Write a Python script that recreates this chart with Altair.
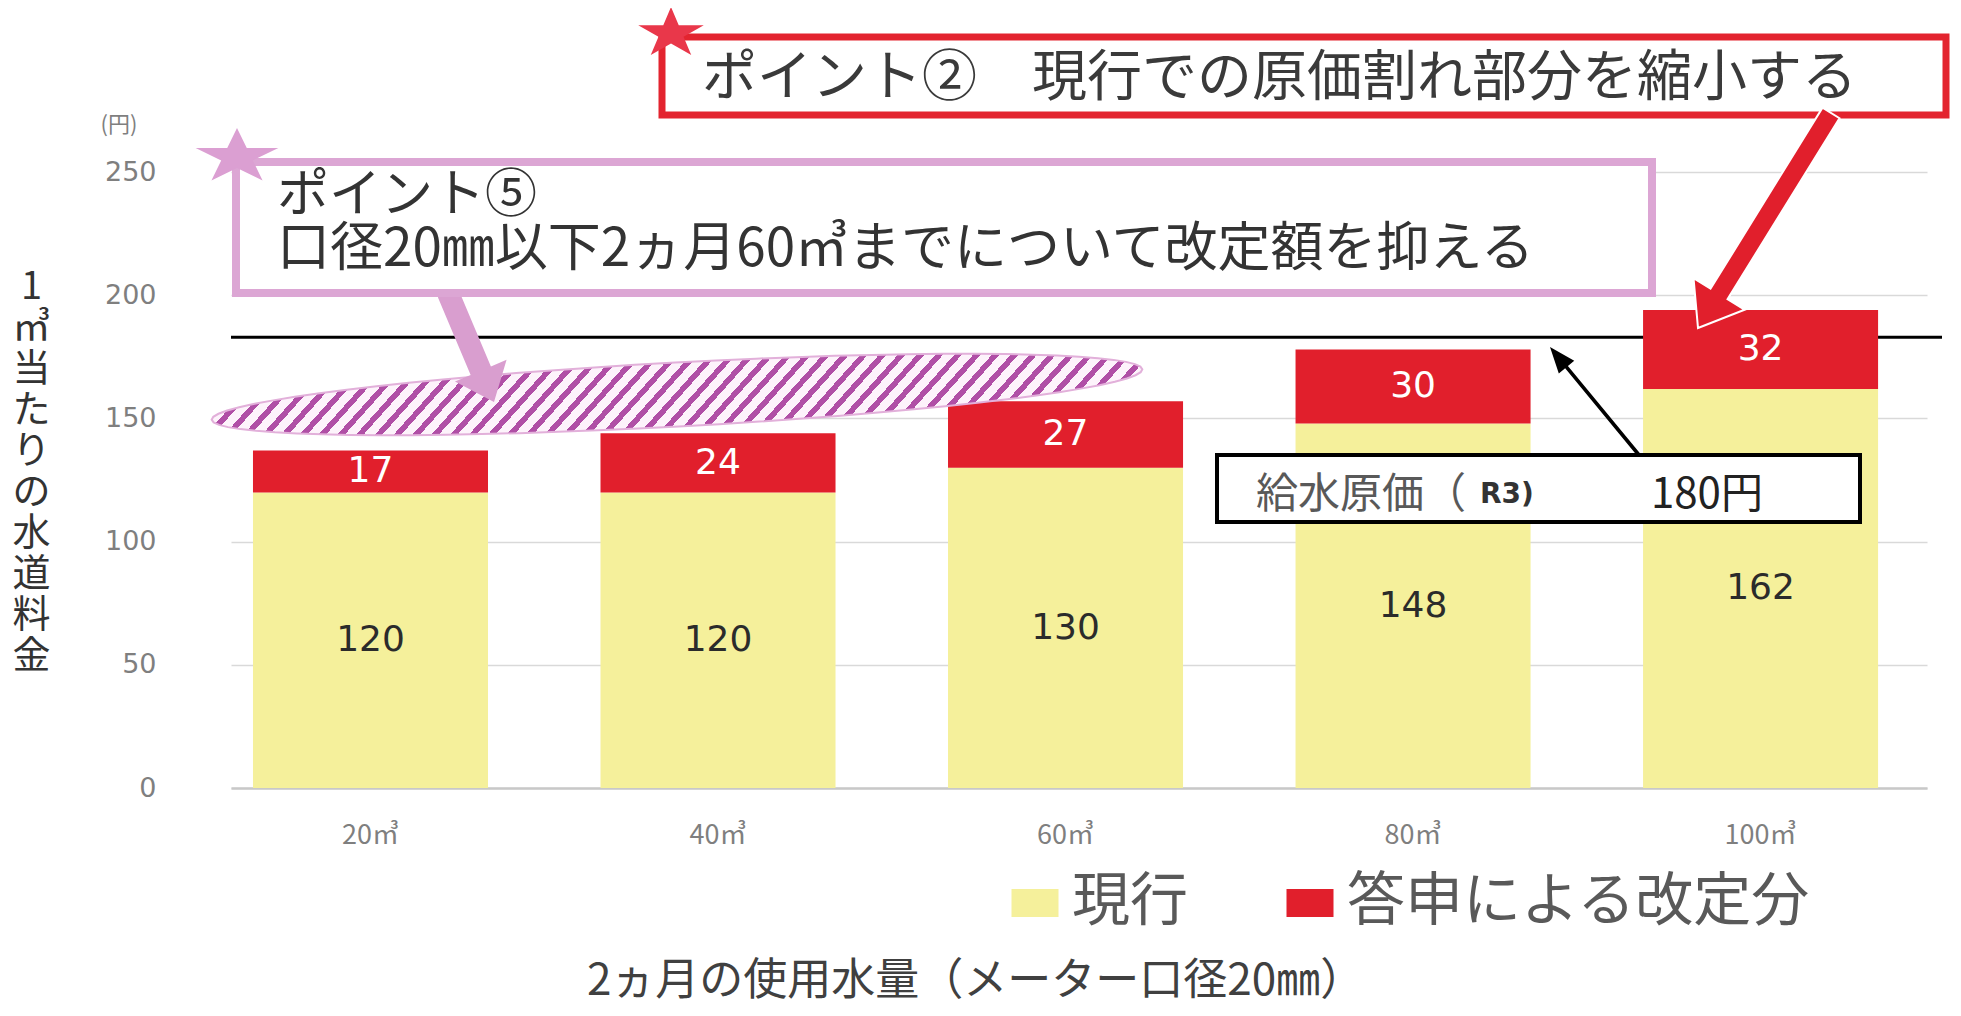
import math
import altair as alt
import pandas as pd

# ---------------- data ----------------
categories = ["20㎥", "40㎥", "60㎥", "80㎥", "100㎥"]
current = [120, 120, 130, 148, 162]
revision = [17, 24, 27, 30, 32]
series = ["現行", "答申による改定分"]
y_ticks = [0, 50, 100, 150, 200, 250]
cost_line = 183
y_title = ["1", "㎥", "当", "た", "り", "の", "水", "道", "料", "金"]
x_title = "2ヵ月の使用水量（メーター口径20㎜）"
note2 = "ポイント②　現行での原価割れ部分を縮小する"
note5_l1 = "ポイント⑤"
note5_l2 = "口径20㎜以下2ヵ月60㎥までについて改定額を抑える"
cost_txt = ["給水原価（", "R3)", "180円"]

YELLOW = "#F5F09B"
RED = "#E11F2C"
PINK = "#DCA6D4"
JP = "Noto Sans CJK JP"
NUM = "DejaVu Sans"

rows = []
for i, c in enumerate(categories):
    rows.append({"vol": c, "series": series[0], "value": current[i], "order": 0,
                 "mid": current[i] / 2})
    rows.append({"vol": c, "series": series[1], "value": revision[i], "order": 1,
                 "mid": current[i] + revision[i] / 2})
df = pd.DataFrame(rows)

W, H = 1696, 776
xscale = alt.Scale(domain=categories, paddingInner=0.3237, paddingOuter=0.102, align=0.31)
yscale = alt.Scale(domain=[0, 315], nice=False, zero=True)

x_axis = alt.Axis(
    labelAngle=0, domain=True, domainColor="#C8C8C8", domainWidth=2.5,
    ticks=False, tickSize=0, grid=False, labelPadding=47, labelBaseline="middle",
    labelFontSize=27, labelFont=JP, labelColor="#7F7F7F",
    title=x_title, titleX=744, titleY=193, titleAlign="center",
    titleBaseline="middle", titleFontSize=44, titleFont=JP,
    titleColor="#404040", titleFontWeight="normal")
y_axis = alt.Axis(
    values=y_ticks, grid=True, gridColor="#D9D9D9", gridWidth=1.5,
    domain=False, ticks=False, tickSize=0, labelPadding=75,
    labelFontSize=27, labelFont=NUM, labelColor="#7F7F7F",
    title=y_title, titleAngle=0, titleX=-200, titleY=275,
    titleAlign="center", titleBaseline="middle", titleFontSize=38,
    titleLineHeight=41, titleFont=JP, titleColor="#333333",
    titleFontWeight="normal")

one = alt.Data(values=[{"a": 1}])

# ---------------- helpers for shapes ----------------
def star_path(stretch):
    pts = []
    for k in range(10):
        r = 1.0 if k % 2 == 0 else 0.382
        a = math.radians(k * 36)
        pts.append((stretch * r * math.sin(a), -r * math.cos(a)))
    return "M" + "L".join(f"{x:.4f},{y:.4f}" for x, y in pts) + "Z"

def arrow_path(length, shaft_hw, head_hw, head_len):
    s = length / 2
    a = shaft_hw / s
    b = head_hw / s
    h = -1 + head_len / s
    return (f"M0,-1L{b:.4f},{h:.4f}L{a:.4f},{h:.4f}L{a:.4f},1L{-a:.4f},1"
            f"L{-a:.4f},{h:.4f}L{-b:.4f},{h:.4f}Z")

def arrow_layer(tail, tip, shaft_hw, head_hw, head_len, color, stroke=None, sw=0):
    dx, dy = tip[0] - tail[0], tip[1] - tail[1]
    L = math.hypot(dx, dy)
    ang = math.degrees(math.atan2(dx, -dy)) % 360
    cx, cy = (tail[0] + tip[0]) / 2, (tail[1] + tip[1]) / 2
    kw = dict(shape=arrow_path(L, shaft_hw, head_hw, head_len), size=L * L,
              angle=ang, filled=True, fill=color, opacity=1, strokeWidth=sw)
    if stroke:
        kw["stroke"] = stroke
    return alt.Chart(one).mark_point(**kw).encode(x=alt.value(cx), y=alt.value(cy))

def star_layer(cx, cy, ry, stretch, color):
    return alt.Chart(one).mark_point(
        shape=star_path(stretch), size=(2 * ry) ** 2, filled=True, fill=color,
        opacity=1, strokeWidth=0
    ).encode(x=alt.value(cx), y=alt.value(cy))

def box_layer(x1, x2, y1, y2, color, sw):
    return alt.Chart(one).mark_rect(fill="white", stroke=color, strokeWidth=sw).encode(
        x=alt.value(x1), x2=alt.value(x2), y=alt.value(y1), y2=alt.value(y2))

def text_layer(x, y, txt, size, color="#333333", font=JP, weight="normal", align="left"):
    return alt.Chart(one).mark_text(
        align=align, baseline="middle", font=font, fontSize=size, color=color,
        fontWeight=weight
    ).encode(x=alt.value(x), y=alt.value(y), text=alt.value(txt))

# ---------------- main layers ----------------
rule = alt.Chart(one).mark_rule(color="black", strokeWidth=3).encode(
    x=alt.value(0), x2=alt.value(1711),
    y=alt.YDatum(cost_line, scale=yscale, axis=y_axis))

bars = alt.Chart(df).mark_bar().encode(
    x=alt.X("vol:N", sort=categories, scale=xscale, axis=x_axis),
    y=alt.Y("value:Q", stack="zero", scale=yscale, axis=y_axis),
    color=alt.Color("series:N", scale=alt.Scale(domain=series, range=[YELLOW, RED]),
                    legend=alt.Legend(
                        title=None, orient="none", legendX=775, legendY=862,
                        direction="horizontal",
                        symbolType="M-1,-0.6H1V0.6H-1Z", symbolSize=2209,
                        symbolStrokeWidth=0, symbolOpacity=1,
                        labelFontSize=58, labelFont=JP, labelColor="#595959",
                        labelOffset=8, columnPadding=92, labelLimit=900)),
    order=alt.Order("order:Q"),
)

labels = alt.Chart(df).mark_text(font=NUM, fontSize=36, baseline="middle").encode(
    x=alt.X("vol:N", sort=categories, scale=xscale, axis=x_axis),
    y=alt.Y("mid:Q", scale=yscale, axis=y_axis),
    text=alt.Text("value:Q"),
    color=alt.condition(alt.datum.series == series[0], alt.value("#2B2B2B"),
                        alt.value("white")),
)

yen = text_layer(-112, 113, "(円)", 22, color="#7F7F7F", align="center")

# ---------------- hatched ellipse ----------------
rx_px, ry_px = 466.0, 32.0
ratio = ry_px / rx_px
ell_pts = []
for k in range(72):
    t = 2 * math.pi * k / 72
    ell_pts.append((math.cos(t), ratio * math.sin(t)))
ell_path = "M" + "L".join(f"{x:.4f},{y:.4f}" for x, y in ell_pts) + "Z"
bw, bh = 2 * rx_px, 2 * ry_px
kk = 1.1
period = 14 * math.sqrt(2) / (bw * kk * (1 + (bh / bw) ** 2))
dark, light = "#B04FA6", "#FDF3FB"
stops = []
k = 0
while k * period < 1:
    t0 = k * period
    t1 = min(t0 + period * 0.4, 1.0)
    t2 = min(t0 + period, 1.0)
    stops += [alt.GradientStop(offset=t0, color=dark), alt.GradientStop(offset=t1, color=dark),
              alt.GradientStop(offset=t1, color=light), alt.GradientStop(offset=t2, color=light)]
    k += 1
hatch = alt.LinearGradient(gradient="linear", stops=stops, x1=0, y1=0, x2=kk,
                           y2=kk * bh / bw)
ellipse = alt.Chart(one).mark_point(
    shape=ell_path, size=(2 * rx_px) ** 2, angle=356.9, filled=True, fill=hatch,
    opacity=1, stroke="#E2B0DA", strokeWidth=2
).encode(x=alt.value(446), y=alt.value(382.5))

# ---------------- annotations (plot-area pixel coords) ----------------
pink_arrow = arrow_layer((217, 281), (263, 390), 11, 28, 34, "#D99ECF")
pink_box = box_layer(5, 1421, 150, 281, PINK, 8)
pink_star = star_layer(6, 145, 29, 1.5, "#DB9FD2")
pink_t1 = text_layer(46, 184, note5_l1, 52)
pink_t2 = text_layer(46, 238, note5_l2, 53)

red_box = box_layer(431, 1715, 25, 103, "#E3242F", 7)
red_star = star_layer(440, 21.5, 26.5, 1.3, "#E9374A")
red_t = text_layer(471, 66, note2, 55, color="#3A3A3A")
red_arrow = arrow_layer((1600, 101), (1467, 316), 10, 30, 40, "#E11F2C",
                        stroke="white", sw=2)

blk_box = box_layer(986, 1629, 443, 510, "black", 4)
blk_t1 = text_layer(1025, 483, cost_txt[0], 42, color="#595959")
blk_t2 = text_layer(1249, 483, cost_txt[1], 28, color="#333333", font=NUM, weight="bold")
blk_t3 = text_layer(1420, 483, cost_txt[2], 42, color="#222222")
blk_arrow = arrow_layer((1408, 443), (1319, 335), 1.8, 10, 26, "black")

chart = alt.layer(
    rule, bars, labels, yen, ellipse,
    pink_arrow, pink_box, pink_star, pink_t1, pink_t2,
    red_box, red_star, red_t, red_arrow,
    blk_box, blk_t1, blk_t2, blk_t3, blk_arrow,
).properties(
    width=W, height=H,
    padding={"left": 223, "top": 4, "right": 24, "bottom": 220},
    autosize=alt.AutoSizeParams(type="none"),
    background="white",
).configure_view(strokeOpacity=0)

chart.save("out.html", embed_options={"renderer": "svg", "actions": False})
